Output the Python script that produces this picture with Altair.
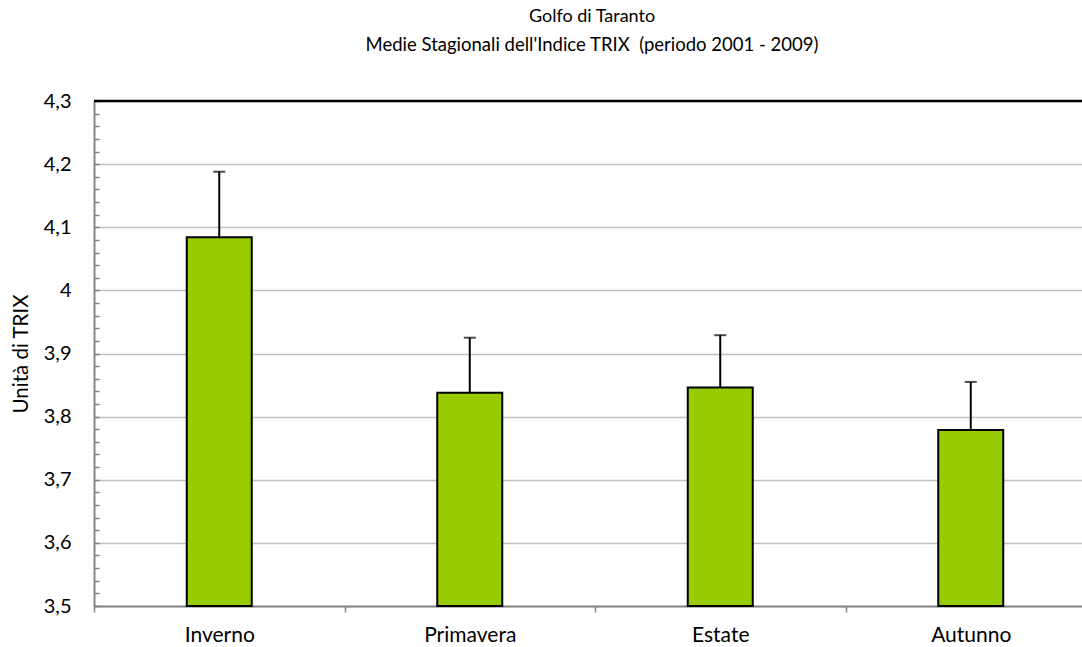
import altair as alt
import pandas as pd

seasons = ["Inverno", "Primavera", "Estate", "Autunno"]
means = [4.084, 3.838, 3.846, 3.779]
errors = [0.104, 0.087, 0.083, 0.076]
y_ticks = [3.5, 3.6, 3.7, 3.8, 3.9, 4.0, 4.1, 4.2, 4.3]
y_minor = [round(3.5 + 0.02 * i, 2) for i in range(41)]

df = pd.DataFrame({"season": seasons, "mean": means, "err": errors})
df["upper"] = df["mean"] + df["err"]

FONT = "Lato"
W, H = 988, 505
YTITLE = "Unità di TRIX"

xscale = alt.Scale(range=[0, 1002], paddingInner=0, paddingOuter=0)
xaxis = alt.Axis(title=None, labelAngle=0, tickBand="extent",
                 tickSize=6, tickColor="#868686", tickWidth=1.5,
                 domainColor="#868686", domainWidth=2,
                 labelFontSize=21, labelFont=FONT, labelColor="#000",
                 labelPadding=12, grid=False)
yscale = alt.Scale(domain=[3.5, 4.3], nice=False, zero=False)

bars = alt.Chart(df).mark_bar(size=65, color="#99cc00", stroke="#000",
                              strokeWidth=2).encode(
    x=alt.X("season:N", sort=seasons, scale=xscale, axis=xaxis),
    y=alt.Y("mean:Q", scale=yscale, title=YTITLE,
            axis=alt.Axis(values=y_ticks,
                          labelExpr="replace(toString(round(datum.value*10)/10), '.', ',')",
                          labelFontSize=20, labelFont=FONT, labelColor="#000",
                          titleFontSize=20.5, titleFont=FONT, titleFontWeight="normal",
                          titleColor="#000", titlePadding=12,
                          ticks=False, labelPadding=23,
                          domainColor="#868686", domainWidth=2,
                          grid=True, gridColor="#c0c0c0", gridWidth=1.5)),
    y2=alt.datum(3.5),
)

stem = alt.Chart(df).mark_rule(color="#000", strokeWidth=2).encode(
    x=alt.X("season:N", sort=seasons, title=None),
    y=alt.Y("mean:Q", title=YTITLE), y2="upper:Q")
cap = alt.Chart(df).mark_tick(color="#000", size=12, thickness=2).encode(
    x=alt.X("season:N", sort=seasons, title=None),
    y=alt.Y("upper:Q", title=YTITLE))

top = alt.Chart(pd.DataFrame({"v": [4.3]})).mark_rule(color="#000", strokeWidth=2.5).encode(
    y=alt.Y("v:Q", title=YTITLE), x=alt.value(0), x2=alt.value(W))

main = alt.layer(bars, stem, cap, top)

minor = alt.Chart(df).mark_point(opacity=0).encode(
    y=alt.Y("mean:Q", scale=yscale,
            axis=alt.Axis(orient="right", offset=-W, values=y_minor, labels=False,
                          domain=False, title=None, grid=False,
                          tickSize=5, tickColor="#7f7f7f", tickWidth=1.5)),
)

chart = alt.layer(main, minor).resolve_axis(y="independent").properties(
    width=W, height=H,
    autosize=alt.AutoSizeParams(type="none"),
    padding={"left": 94, "top": 101, "right": 0, "bottom": 41},
    title=alt.Title("Golfo di Taranto",
                    subtitle="Medie Stagionali dell'Indice TRIX \u00a0(periodo 2001 - 2009)",
                    font=FONT, fontSize=18, fontWeight="normal", color="#000",
                    subtitleFont=FONT, subtitleFontSize=18.5, subtitleColor="#000",
                    subtitlePadding=10, anchor="middle", dx=4, offset=37),
).configure_view(stroke=None)

chart.save("out.html", embed_options={"renderer": "svg", "actions": False})
